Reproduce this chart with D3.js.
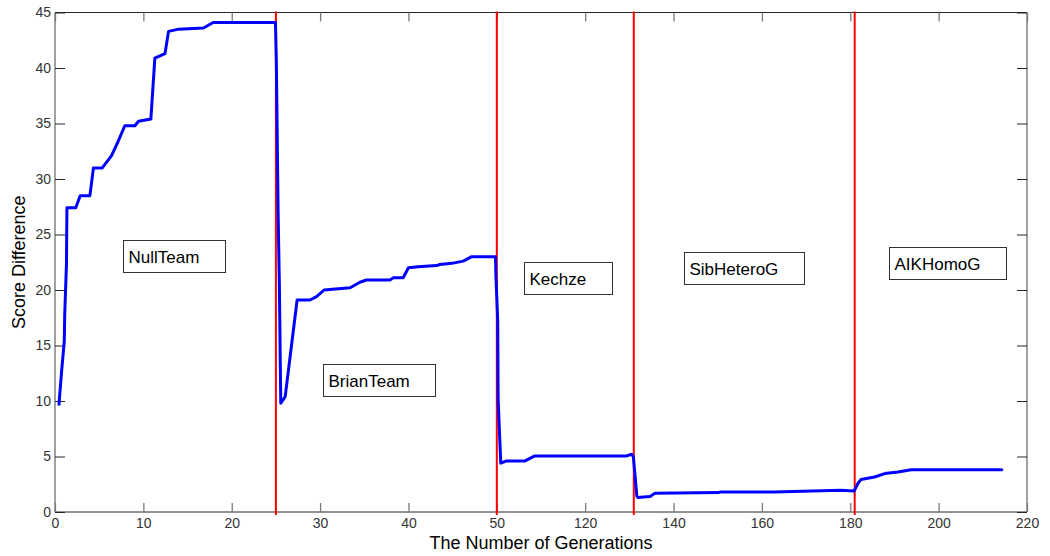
<!DOCTYPE html>
<html>
<head>
<meta charset="utf-8">
<script src="https://cdn.jsdelivr.net/npm/d3@7"></script>
<style>
  html, body { margin: 0; padding: 0; background: #fff; }
  svg { display: block; font-family: "Liberation Sans", Arial, sans-serif; }
</style>
</head>
<body>
<svg id="chart" width="1050" height="556"></svg>
<script>
// ---------------- data ----------------
const tickValuesX = [0, 10, 20, 30, 40, 50, 120, 140, 160, 180, 200, 220];
const tickValuesY = [0, 5, 10, 15, 20, 25, 30, 35, 40, 45];
const xAxisTitle = "The Number of Generations";
const yAxisTitle = "Score Difference";

// generation (as labelled on the axis) and score difference of the blue curve
const generations = [
  0.45, 0.75, 1.05, 1.1, 1.3, 1.35, 2.35, 2.85, 3.95, 4.35, 5.35, 6.4, 7.15, 7.9, 9.05, 9.45,
  10.85, 11.3, 12.45, 12.85, 14, 16.8, 17.9, 24.95,
  25.05, 25.15, 25.25, 25.4, 25.5, 25.55,
  26.05, 27.4, 28.85, 29.6, 30.45, 33.4, 34.5, 35.25, 37.9, 38.3, 39.4, 40.0, 41.1, 43.2,
  43.55, 44.9, 46.2, 47.15, 49.85,
  49.9, 50.7, 51.05, 52.45, 53.15,
  57.7, 72.4, 80.1, 129.4, 130.5, 130.9,
  131.3, 131.7, 132.0,
  133.2, 134.7, 135.8, 150.2, 150.5, 162.7, 177.9, 180.9,
  181.7, 182.4, 185.5, 187.8, 190.8, 193.8, 214.3
];
const scoreDiff = [
  9.7, 12.7, 15.4, 17.8, 22.4, 27.4, 27.4, 28.5, 28.5, 31.0, 31.0, 32.1, 33.4, 34.8, 34.8, 35.2,
  35.4, 40.9, 41.3, 43.3, 43.5, 43.6, 44.1, 44.1,
  40.6, 33.7, 27.0, 20.0, 13.1, 9.8,
  10.4, 19.1, 19.1, 19.4, 20.0, 20.2, 20.7, 20.9, 20.9, 21.1, 21.1, 22.0, 22.1, 22.2,
  22.3, 22.4, 22.6, 23.0, 23.0,
  21.2, 17.3, 10.1, 6.2, 4.4,
  4.6, 4.6, 5.05, 5.05, 5.2, 5.0,
  3.2, 1.4, 1.3,
  1.35, 1.4, 1.7, 1.75, 1.8, 1.8, 1.95, 1.9,
  2.56, 2.92, 3.15, 3.46, 3.6, 3.8, 3.8
];

// team switch generations (red vertical lines)
const switchGenerations = [25, 50, 131, 181];

// team annotations: name and top-left anchor in data units
const teamNames = ["NullTeam", "BrianTeam", "Kechze", "SibHeteroG", "AIKHomoG"];
const teamLabelGen = [7.7, 30.33, 71.7, 142.4, 188.8];
const teamLabelScore = [24.5, 13.33, 22.5, 23.4, 23.9];

// ---------------- layout ----------------
const W = 1050, H = 556;
const pL = 55, pR = 1027, pT = 12.5, pB = 512;
const tickStep = (pR - pL) / (tickValuesX.length - 1);

const x = d3.scaleLinear()
  .domain([0, 50, 120, 220])
  .range([pL, pL + 5 * tickStep, pL + 6 * tickStep, pR]);
const y = d3.scaleLinear().domain([0, 45]).range([pB, pT]);

const svg = d3.select("#chart");
svg.append("rect").attr("width", W).attr("height", H).attr("fill", "#fff");

const vCol = "#7a7a7a", hCol = "#262626";

// frame
svg.append("line").attr("x1", pL).attr("x2", pR).attr("y1", pT).attr("y2", pT)
  .attr("stroke", hCol).attr("stroke-width", 1);
svg.append("line").attr("x1", pL).attr("x2", pR).attr("y1", pB).attr("y2", pB)
  .attr("stroke", hCol).attr("stroke-width", 1);
svg.append("line").attr("x1", pL).attr("x2", pL).attr("y1", pT).attr("y2", pB)
  .attr("stroke", vCol).attr("stroke-width", 1.4);
svg.append("line").attr("x1", pR).attr("x2", pR).attr("y1", pT).attr("y2", pB)
  .attr("stroke", vCol).attr("stroke-width", 1.4);

// x axis (bottom) using d3 axis, inward ticks
const xAxis = d3.axisBottom(x).tickValues(tickValuesX).tickSize(-9).tickPadding(6)
  .tickFormat(d3.format("d"));
const gx = svg.append("g").attr("transform", `translate(0,${pB})`).call(xAxis);
gx.select(".domain").remove();
gx.selectAll(".tick line").attr("stroke", vCol).attr("stroke-width", 1.3);
gx.selectAll(".tick text").attr("font-size", 14).attr("fill", "#333")
  .attr("font-family", '"Liberation Sans", Arial, sans-serif');

// x top ticks
const gxt = svg.append("g").attr("transform", `translate(0,${pT})`)
  .call(d3.axisTop(x).tickValues(tickValuesX).tickSize(-9).tickFormat(""));
gxt.select(".domain").remove();
gxt.selectAll(".tick line").attr("stroke", vCol).attr("stroke-width", 1.3);

// y axis left
const yAxis = d3.axisLeft(y).tickValues(tickValuesY).tickSize(-10).tickPadding(4)
  .tickFormat(d3.format("d"));
const gy = svg.append("g").attr("transform", `translate(${pL},0)`).call(yAxis);
gy.select(".domain").remove();
gy.selectAll(".tick line").attr("stroke", hCol);
gy.selectAll(".tick text").attr("font-size", 14).attr("fill", "#333")
  .attr("font-family", '"Liberation Sans", Arial, sans-serif');

// y right ticks
const gyr = svg.append("g").attr("transform", `translate(${pR},0)`)
  .call(d3.axisRight(y).tickValues(tickValuesY).tickSize(-10).tickFormat(""));
gyr.select(".domain").remove();
gyr.selectAll(".tick line").attr("stroke", hCol);

// red team-switch lines
svg.append("g").selectAll("line").data(switchGenerations).join("line")
  .attr("x1", d => x(d)).attr("x2", d => x(d))
  .attr("y1", pT - 1).attr("y2", pB + 3)
  .attr("stroke", "#ff0000").attr("stroke-width", 2);

// blue curve
const pts = generations.map((g, i) => [g, scoreDiff[i]]);
const line = d3.line().x(d => x(d[0])).y(d => y(d[1]));
svg.append("path").datum(pts).attr("d", line)
  .attr("fill", "none").attr("stroke", "#0000ff").attr("stroke-width", 3)
  .attr("stroke-linejoin", "round").attr("stroke-linecap", "round");

// team annotation boxes
teamNames.forEach((name, i) => {
  const bx = Math.round(x(teamLabelGen[i])) + 0.5;
  const by = Math.round(y(teamLabelScore[i])) + 0.5;
  const g = svg.append("g");
  const rect = g.append("rect").attr("x", bx).attr("y", by).attr("height", 32)
    .attr("fill", "#fff").attr("stroke", "#333").attr("stroke-width", 1);
  const t = g.append("text").attr("x", bx + 5).attr("y", by + 22)
    .attr("font-size", 17).attr("fill", "#000").text(name);
  const w = t.node().getComputedTextLength();
  rect.attr("width", Math.round(w + 31));
});

// axis titles
svg.append("text").attr("x", (pL + pR) / 2).attr("y", 549)
  .attr("text-anchor", "middle").attr("font-size", 18).attr("fill", "#000")
  .text(xAxisTitle);
svg.append("text").attr("transform", `translate(25,${(pT + pB) / 2}) rotate(-90)`)
  .attr("text-anchor", "middle").attr("font-size", 18).attr("fill", "#000")
  .text(yAxisTitle);
</script>
</body>
</html>
